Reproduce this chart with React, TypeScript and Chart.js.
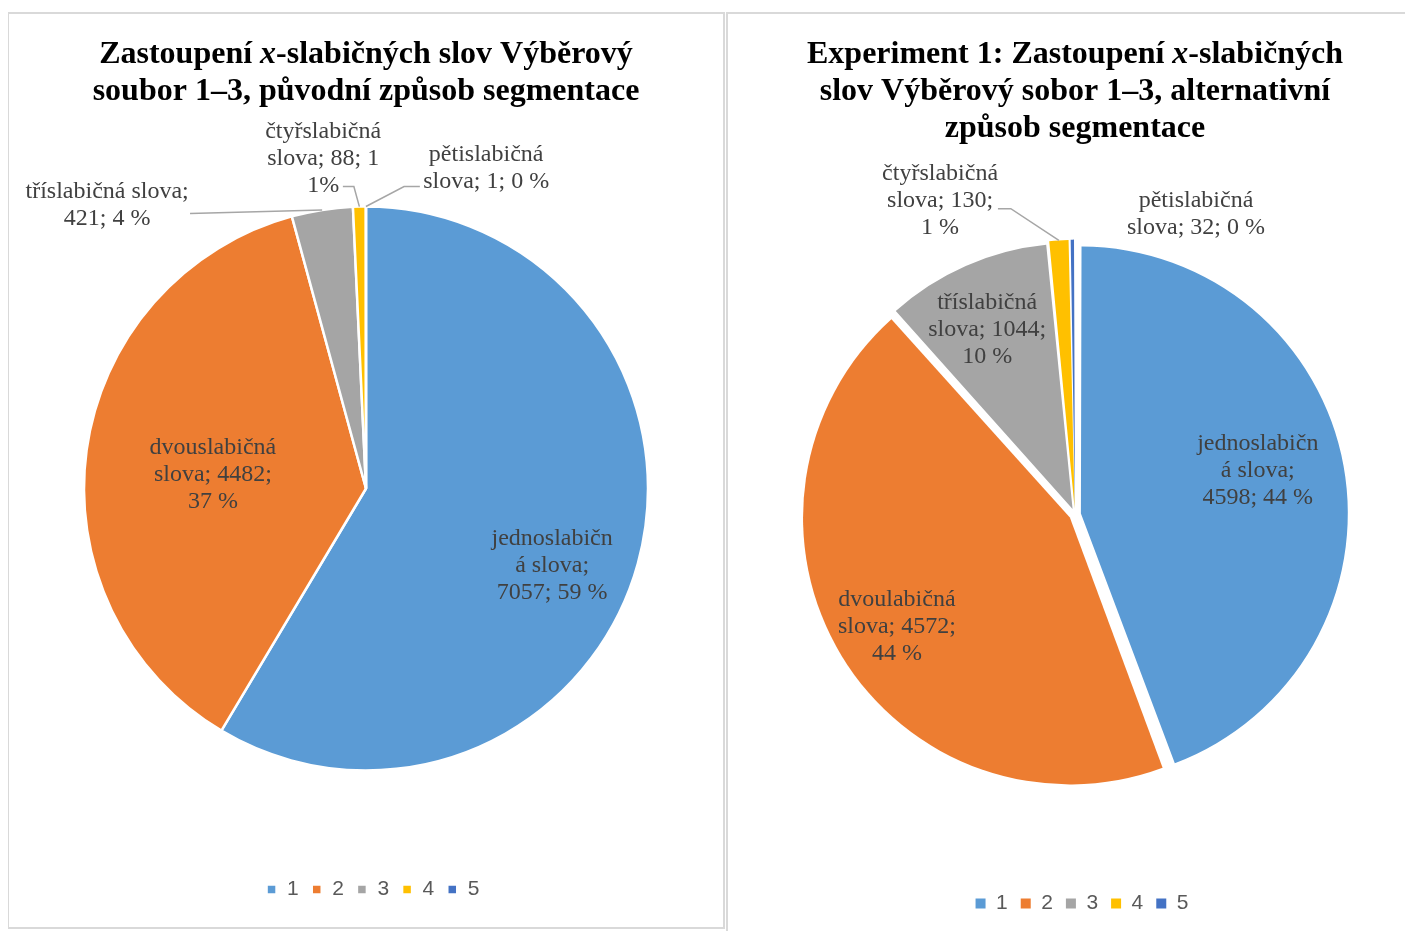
import React, { useEffect, useRef } from "react";
import { Chart, registerables } from "chart.js";

Chart.register(...registerables);

// ---------- data ----------
const legendLabels = ["1", "2", "3", "4", "5"];
const sliceColors = ["#5B9BD5", "#ED7D31", "#A5A5A5", "#FFC000", "#4472C4"];

const leftValues = [7057, 4482, 421, 88, 1];
const leftLabelLines = [
  ["jednoslabičn", "á slova;", "7057; 59 %"],
  ["dvouslabičná", "slova; 4482;", "37 %"],
  ["tříslabičná slova;", "421; 4 %"],
  ["čtyřslabičná", "slova; 88; 1", "1%"],
  ["pětislabičná", "slova; 1; 0 %"],
];
const leftTitle = [
  [{ t: "Zastoupení " }, { t: "x", i: true }, { t: "-slabičných slov Výběrový" }],
  [{ t: "soubor 1–3, původní způsob segmentace" }],
];

const rightValues = [4598, 4572, 1044, 130, 32];
const rightLabelLines = [
  ["jednoslabičn", "á slova;", "4598; 44 %"],
  ["dvoulabičná", "slova; 4572;", "44 %"],
  ["tříslabičná", "slova; 1044;", "10 %"],
  ["čtyřslabičná", "slova; 130;", "1 %"],
  ["pětislabičná", "slova; 32; 0 %"],
];
const rightTitle = [
  [{ t: "Experiment 1: Zastoupení " }, { t: "x", i: true }, { t: "-slabičných" }],
  [{ t: "slov Výběrový sobor 1–3, alternativní" }],
  [{ t: "způsob segmentace" }],
];

// ---------- label placement (in units of pie radius, relative to pie centre) ----------
type Placement = { dx: number; dy: number; leader?: number[][] };
const leftPlacement: Placement[] = [
  { dx: 0.66, dy: 0.273 },
  { dx: -0.543, dy: -0.05 },
  { dx: -0.918, dy: -1.005, leader: [[-0.624, -0.975]] },
  { dx: -0.152, dy: -1.17, leader: [[-0.082, -1.071], [-0.043, -1.071]] },
  { dx: 0.426, dy: -1.137, leader: [[0.191, -1.071], [0.135, -1.071]] },
];
const rightPlacement: Placement[] = [
  { dx: 0.695, dy: -0.167 },
  { dx: -0.677, dy: 0.426 },
  { dx: -0.334, dy: -0.702 },
  { dx: -0.513, dy: -1.194, leader: [[-0.293, -1.163], [-0.244, -1.163]] },
  { dx: 0.46, dy: -1.14 },
];

const SERIF = "'Liberation Serif', 'Times New Roman', serif";
const SANS = "'Liberation Sans', Arial, sans-serif";

type Seg = { t: string; i?: boolean };

function richTitlePlugin(lines: Seg[][], firstY: number, lineH: number, size: number) {
  return {
    id: "richTitle",
    afterDraw(chart: any) {
      const ctx = chart.ctx as CanvasRenderingContext2D;
      ctx.save();
      ctx.fillStyle = "#000000";
      ctx.textBaseline = "middle";
      ctx.textAlign = "left";
      lines.forEach((segs, li) => {
        const fonts = segs.map((s) => `${s.i ? "italic " : ""}bold ${size}px ${SERIF}`);
        const widths = segs.map((s, k) => {
          ctx.font = fonts[k];
          return ctx.measureText(s.t).width;
        });
        const total = widths.reduce((a, b) => a + b, 0);
        let x = chart.width / 2 - total / 2;
        const y = firstY + li * lineH;
        segs.forEach((s, k) => {
          ctx.font = fonts[k];
          ctx.fillText(s.t, x, y);
          x += widths[k];
        });
      });
      ctx.restore();
    },
  };
}

// nudges the legend sideways (Excel centres its legend slightly right of the plot)
function legendShiftPlugin(shift: number) {
  return {
    id: "legendShift",
    afterLayout(chart: any) {
      const lg = chart.legend;
      if (lg) {
        lg.left += shift;
        lg.right += shift;
      }
    },
  };
}

function dataLabelPlugin(labelLines: string[][], placement: Placement[], size: number, lineH: number) {
  return {
    id: "dataLabels",
    afterDatasetsDraw(chart: any) {
      const ctx = chart.ctx as CanvasRenderingContext2D;
      const meta = chart.getDatasetMeta(0);
      const ds = chart.data.datasets[0];
      const o = (ds.offset || 0) / 4;
      ctx.save();
      meta.data.forEach((arc: any, i: number) => {
        const { x, y, outerRadius, startAngle, endAngle, circumference } = arc.getProps(
          ["x", "y", "outerRadius", "startAngle", "endAngle", "circumference"],
          true
        );
        const r = outerRadius;
        const p = placement[i];
        if (p.leader) {
          const mid = (startAngle + endAngle) / 2;
          const fix = 1 - Math.sin(Math.min(Math.PI, circumference || 0));
          const off = o * (1 + fix);
          const ex = x + Math.cos(mid) * (r + off);
          const ey = y + Math.sin(mid) * (r + off);
          ctx.strokeStyle = "#A6A6A6";
          ctx.lineWidth = 1.5;
          ctx.beginPath();
          p.leader.forEach((pt, k) => {
            const px = x + pt[0] * r;
            const py = y + pt[1] * r;
            if (k === 0) ctx.moveTo(px, py);
            else ctx.lineTo(px, py);
          });
          ctx.lineTo(ex, ey);
          ctx.stroke();
        }
        const lines = labelLines[i];
        const cx = x + p.dx * r;
        const cy = y + p.dy * r;
        ctx.fillStyle = "#404040";
        ctx.font = `${size}px ${SERIF}`;
        ctx.textAlign = "center";
        ctx.textBaseline = "middle";
        const top = cy - ((lines.length - 1) * lineH) / 2;
        lines.forEach((ln, k) => ctx.fillText(ln, cx, top + k * lineH));
      });
      ctx.restore();
    },
  };
}

type PieProps = {
  width: number;
  height: number;
  values: number[];
  labelLines: string[][];
  placement: Placement[];
  title: Seg[][];
  radius: number;
  offset: number;
  borderWidth: number;
  padTop: number;
  padBottom: number;
};

function PieChart(props: PieProps) {
  const ref = useRef<HTMLCanvasElement>(null);
  useEffect(() => {
    const chart = new Chart(ref.current as HTMLCanvasElement, {
      type: "pie",
      data: {
        labels: legendLabels,
        datasets: [
          {
            data: props.values,
            backgroundColor: sliceColors,
            borderColor: "#FFFFFF",
            borderWidth: props.borderWidth,
            offset: props.offset,
          } as any,
        ],
      },
      options: {
        animation: false,
        responsive: false,
        maintainAspectRatio: false,
        radius: props.radius,
        layout: { padding: { top: props.padTop, bottom: props.padBottom, left: 0, right: 0 } },
        plugins: {
          title: { display: false },
          tooltip: { enabled: false },
          legend: {
            display: true,
            position: "bottom",
            labels: {
              boxWidth: 10,
              boxHeight: 10,
              padding: 13,
              color: "#595959",
              font: { family: SANS, size: 21 },
            },
          },
        },
      } as any,
      plugins: [
        legendShiftPlugin(7),
        richTitlePlugin(props.title, 41, 37, 32),
        dataLabelPlugin(props.labelLines, props.placement, 24, 27),
      ],
    });
    return () => chart.destroy();
  }, []);
  return (
    <canvas
      ref={ref}
      width={props.width}
      height={props.height}
      style={{ display: "block", width: props.width, height: props.height }}
    />
  );
}

export default function App() {
  const panel: React.CSSProperties = {
    position: "absolute",
    border: "2px solid #D9D9D9",
    background: "#FFFFFF",
  };
  return (
    <div style={{ position: "relative", width: 1405, height: 923, overflow: "hidden", background: "#FFFFFF" }}>
      <div style={{ ...panel, left: -1, top: 4, width: 714, height: 913 }}>
        <PieChart
          width={714}
          height={913}
          values={leftValues}
          labelLines={leftLabelLines}
          placement={leftPlacement}
          title={leftTitle}
          radius={282}
          offset={0}
          borderWidth={2.5}
          padTop={97}
          padBottom={17}
        />
      </div>
      <div style={{ ...panel, left: 718, top: 4, width: 694, height: 925 }}>
        <PieChart
          width={694}
          height={925}
          values={rightValues}
          labelLines={rightLabelLines}
          placement={rightPlacement}
          title={rightTitle}
          radius={263}
          offset={24}
          borderWidth={0}
          padTop={135}
          padBottom={15}
        />
      </div>
    </div>
  );
}
